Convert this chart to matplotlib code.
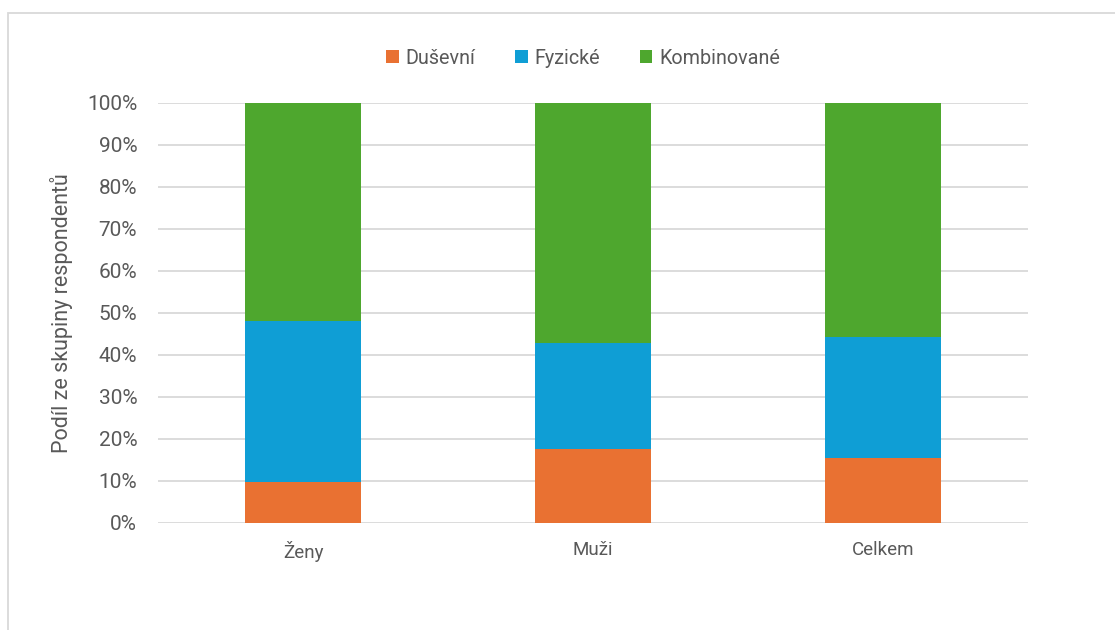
import numpy as np
import matplotlib.pyplot as plt
from matplotlib.patches import Rectangle

categories = ["Ženy", "Muži", "Celkem"]
dusevni = [9.8, 17.6, 15.5]
fyzicke = [38.3, 25.2, 28.7]
kombinovane = [51.9, 57.2, 55.8]

series = [("Duševní", dusevni, "#E97132"),
          ("Fyzické", fyzicke, "#0F9ED5"),
          ("Kombinované", kombinovane, "#4EA72E")]

plt.rcParams['font.family'] = ['Roboto', 'DejaVu Sans']
text_col = "#595959"

fig = plt.figure(figsize=(11.15, 6.3), dpi=100)
ax = fig.add_axes([158/1115, 107/630, 870/1115, 420/630])

x = np.arange(len(categories))
bottom = np.zeros(len(categories))
for name, vals, col in series:
    ax.bar(x, vals, bottom=bottom, width=0.397, color=col, label=name, zorder=3)
    bottom += np.array(vals)

ax.set_xlim(-0.5, len(categories) - 0.5)
ax.set_ylim(0, 100)
ax.set_yticks(np.arange(0, 101, 10))
ax.set_yticklabels([f"{v}%" for v in range(0, 101, 10)])
ax.set_xticks(x)
ax.set_xticklabels(categories)
ax.tick_params(axis='y', length=0, pad=15, labelsize=15, labelcolor=text_col)
ax.tick_params(axis='x', length=0, pad=13, labelsize=13.5, labelcolor=text_col)
ax.grid(axis='y', color="#D9D9D9", linewidth=1.3, zorder=0)
for s in ax.spines.values():
    s.set_visible(False)
ax.set_ylabel("Podíl ze skupiny respondentů", fontsize=15.5, color=text_col, labelpad=10)

fig.legend(loc='center', bbox_to_anchor=(583/1115, 1 - 58/630), ncol=3, frameon=False,
           fontsize=14.2, labelcolor=text_col, handlelength=0.65, handleheight=0.65,
           handletextpad=0.35, columnspacing=2.0)

fig.patches.append(Rectangle((8/1115, -0.1), 1.2, 1 - 13/630 + 0.1, transform=fig.transFigure,
                             fill=False, edgecolor="#D9D9D9", linewidth=1.3))

fig.savefig("out.png", dpi=100)
